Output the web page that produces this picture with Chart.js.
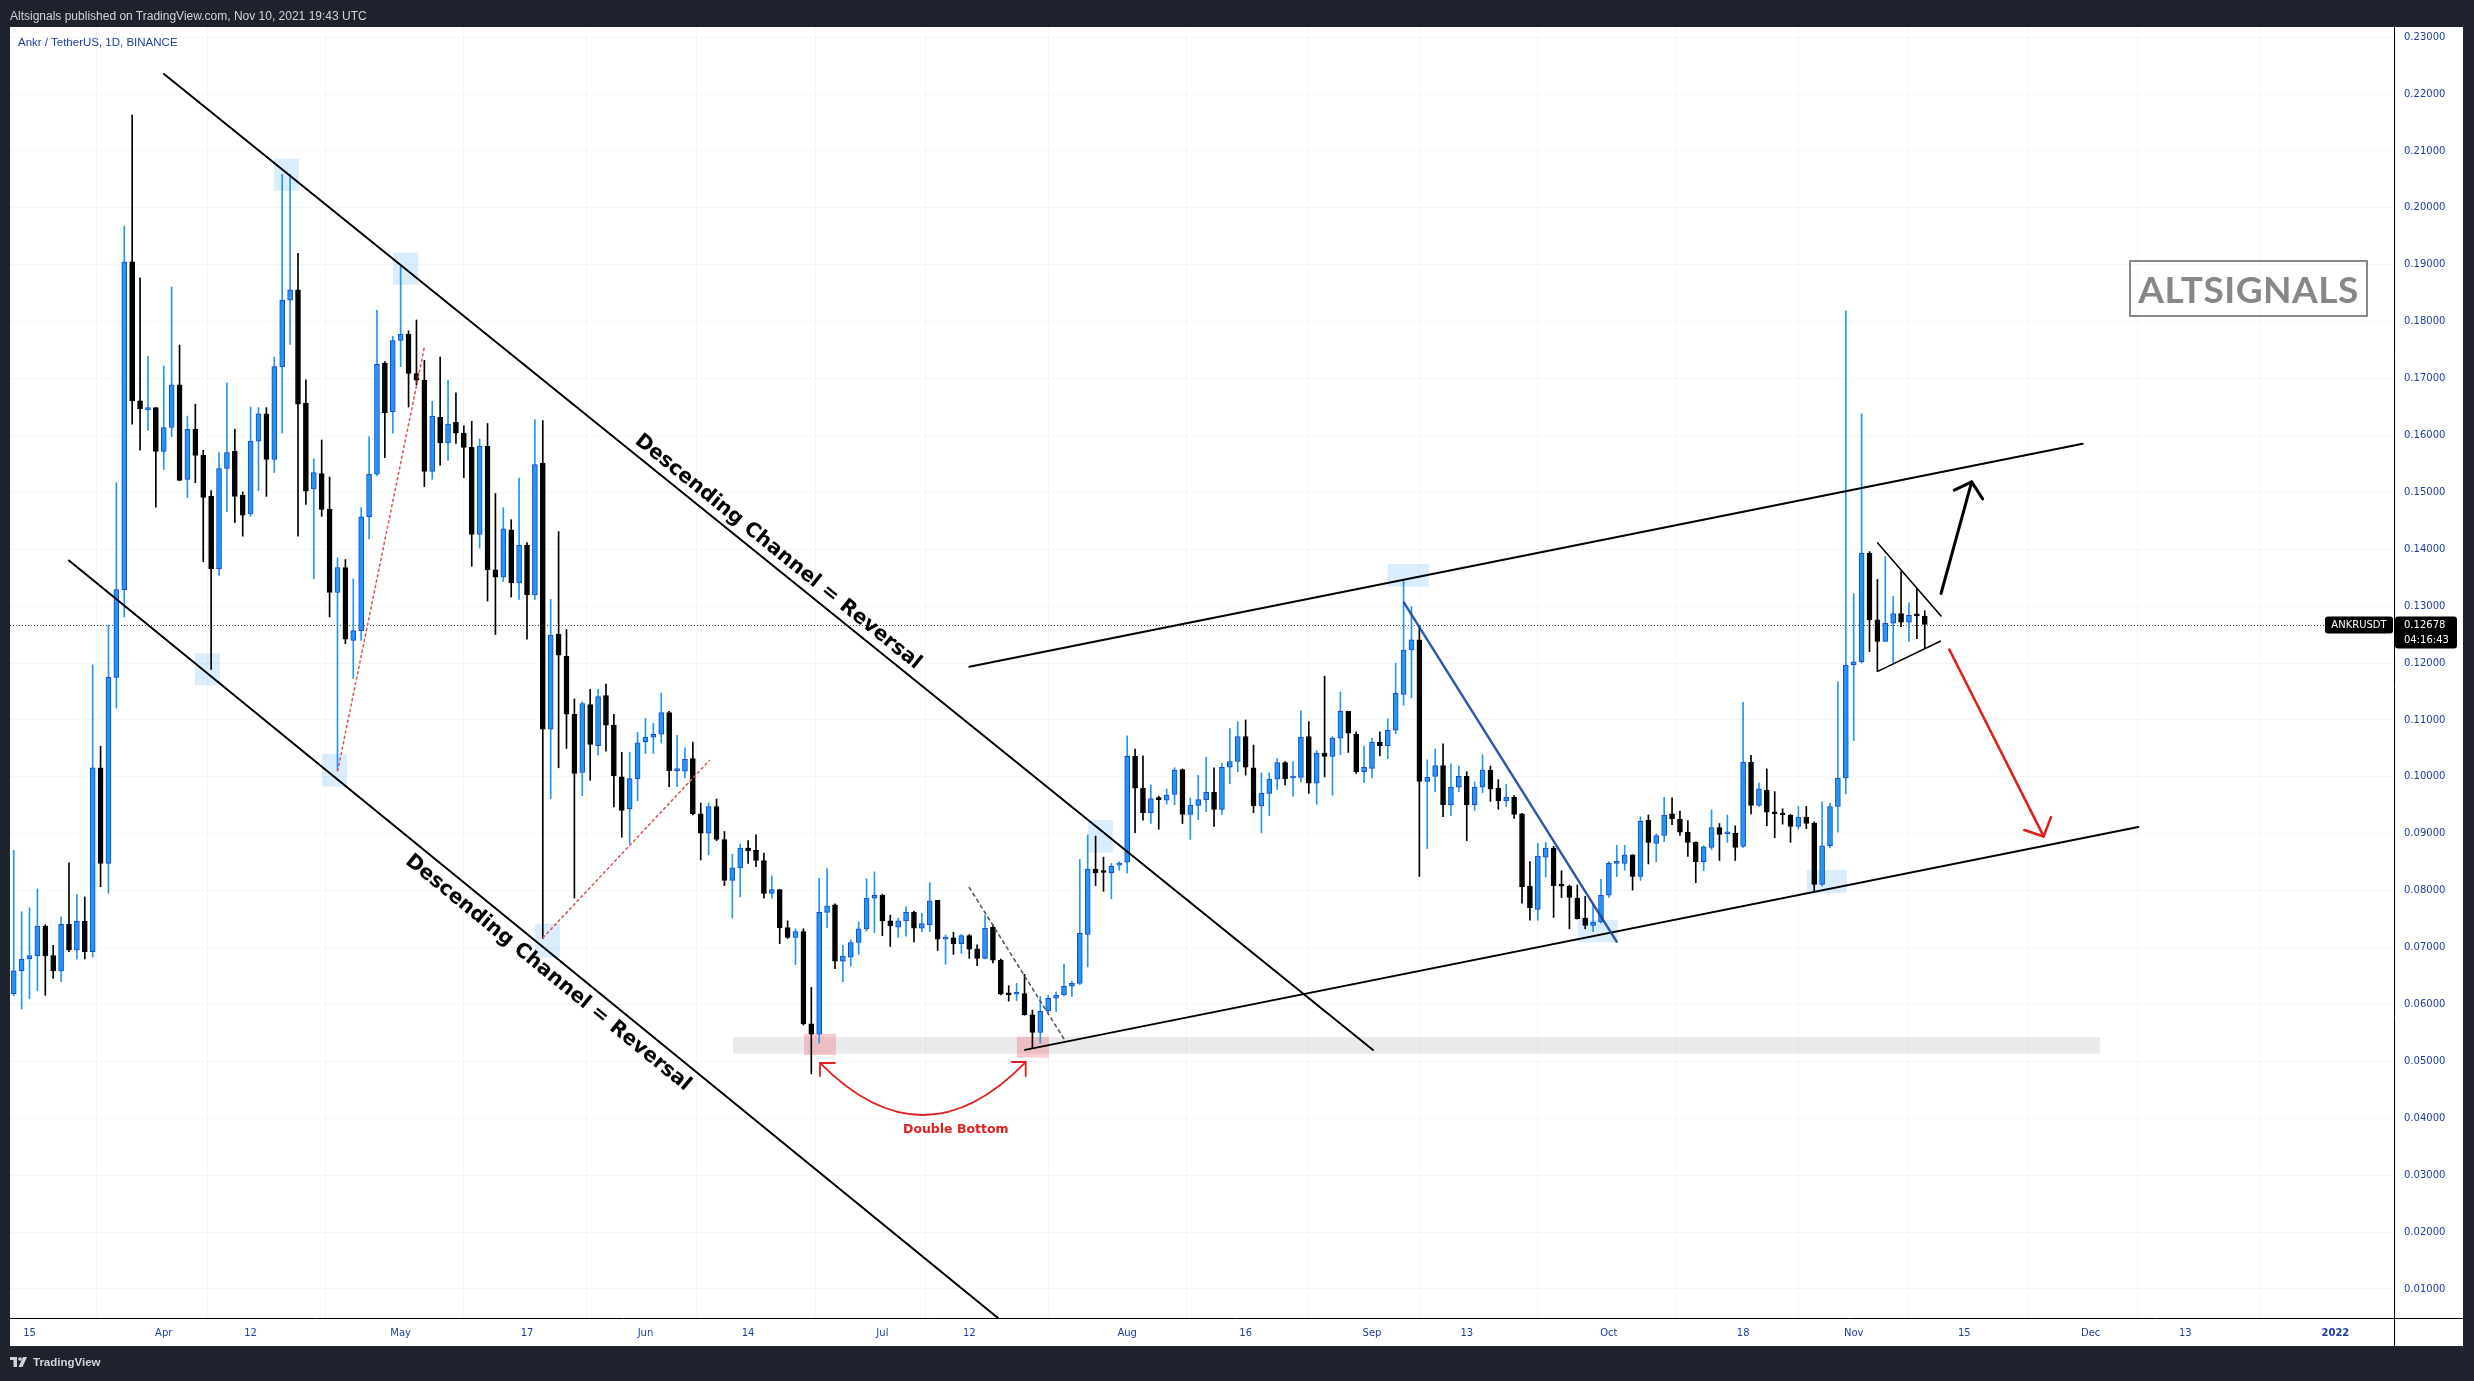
<!DOCTYPE html>
<html><head><meta charset="utf-8">
<script src="https://cdn.jsdelivr.net/npm/chart.js@4.4.0/dist/chart.umd.min.js"></script>
<style>
html,body{margin:0;padding:0;background:#1e222d;width:2474px;height:1381px;overflow:hidden;}
#c{position:absolute;left:0;top:0;}
.hdr{position:absolute;left:10px;top:9px;font:12px "Liberation Sans",sans-serif;color:#d1d4dc;z-index:2;white-space:nowrap;}
.sym{position:absolute;left:18px;top:36px;font:11.5px "Liberation Sans",sans-serif;color:#1e3ca0;z-index:2;white-space:nowrap;}
.ftr{position:absolute;left:10px;top:1356px;font:bold 11.5px "Liberation Sans",sans-serif;color:#d1d4dc;z-index:2;white-space:nowrap;display:flex;align-items:center;gap:3px;}
.wm{position:absolute;left:2129px;top:260px;width:235px;height:53px;border:2px solid #888;z-index:2;display:flex;align-items:center;justify-content:center;font:bold 37px Lato,sans-serif;color:#878787;letter-spacing:0.5px;}
</style></head>
<body>
<canvas id="c" width="2474" height="1381"></canvas>
<div class="hdr">Altsignals published on TradingView.com, Nov 10, 2021 19:43 UTC</div>
<div class="sym">Ankr / TetherUS, 1D, BINANCE</div>
<div class="wm">ALTSIGNALS</div>
<div class="ftr"><svg width="20" height="10" viewBox="0 0 20 10"><rect x="0" y="0" width="7" height="3" fill="#d1d4dc"/><rect x="3.5" y="0" width="3.5" height="10" fill="#d1d4dc"/><circle cx="10" cy="2" r="1.8" fill="#d1d4dc"/><polygon points="13,0 17,0 12.5,10 8.5,10" fill="#d1d4dc"/></svg><span>TradingView</span></div>
<script>
// ---- data (ANKR/USDT daily, from 2021-03-13) ----
const FIRST_DATE = '2021-03-13';
const BASE_DATE = '2021-03-15';
const opens = [0.0619,0.0659,0.0680,0.0686,0.0738,0.0686,0.0659,0.0741,0.0696,0.0746,0.0693,0.1016,0.0848,0.1175,0.1329,0.1905,0.1661,0.1645,0.1649,0.1572,0.1614,0.1689,0.1523,0.1611,0.1565,0.1493,0.1366,0.1542,0.1572,0.1495,0.1462,0.1590,0.1638,0.1558,0.1721,0.1838,0.1856,0.1657,0.1506,0.1533,0.1470,0.1324,0.1368,0.1240,0.1257,0.1457,0.1532,0.1727,0.1642,0.1767,0.1778,0.1709,0.1697,0.1537,0.1632,0.1587,0.1623,0.1604,0.1579,0.1426,0.1581,0.1364,0.1351,0.1434,0.1341,0.1407,0.1320,0.1551,0.1084,0.1251,0.1212,0.1110,0.1008,0.1127,0.1055,0.1143,0.1091,0.1000,0.0944,0.0997,0.1062,0.1070,0.1075,0.1113,0.1011,0.1010,0.1032,0.0935,0.0901,0.0948,0.0890,0.0818,0.0840,0.0875,0.0871,0.0853,0.0795,0.0802,0.0735,0.0718,0.0728,0.0566,0.0548,0.0762,0.0775,0.0676,0.0683,0.0709,0.0733,0.0787,0.0792,0.0747,0.0736,0.0747,0.0762,0.0734,0.0740,0.0783,0.0715,0.0717,0.0707,0.0721,0.0698,0.0681,0.0736,0.0678,0.0618,0.0618,0.0619,0.0582,0.0551,0.0589,0.0611,0.0617,0.0632,0.0637,0.0723,0.0838,0.0833,0.0831,0.0845,0.0850,0.1036,0.0980,0.0937,0.0961,0.0959,0.0969,0.1013,0.0934,0.0950,0.0960,0.0973,0.0943,0.1017,0.1027,0.1071,0.1016,0.0949,0.0971,0.0996,0.1025,0.0998,0.0999,0.1071,0.0989,0.1042,0.1036,0.1068,0.1115,0.1075,0.1009,0.1015,0.1061,0.1055,0.1082,0.1145,0.1223,0.1241,0.0992,0.1001,0.1020,0.0951,0.0982,0.1001,0.0951,0.0982,0.1012,0.0980,0.0958,0.0964,0.0935,0.0808,0.0767,0.0859,0.0875,0.0809,0.0808,0.0787,0.0752,0.0739,0.0745,0.0792,0.0848,0.0848,0.0863,0.0825,0.0924,0.0883,0.0897,0.0935,0.0926,0.0903,0.0885,0.0851,0.0876,0.0911,0.0900,0.0901,0.0878,0.1026,0.0950,0.0977,0.0937,0.0934,0.0933,0.0913,0.0929,0.0919,0.0811,0.0879,0.0948,0.0998,0.1197,0.1202,0.1393,0.1276,0.1238,0.1270,0.1287,0.1272,0.1284,0.1282];
const highs = [0.0871,0.0763,0.0770,0.0803,0.0740,0.0704,0.0754,0.0849,0.0793,0.0789,0.1197,0.1054,0.1267,0.1517,0.1968,0.2163,0.1877,0.1739,0.1649,0.1722,0.1861,0.1759,0.1634,0.1655,0.1574,0.1503,0.1570,0.1692,0.1611,0.1501,0.1650,0.1649,0.1649,0.1738,0.2059,0.2059,0.1920,0.1698,0.1559,0.1592,0.1527,0.1385,0.1382,0.1348,0.1473,0.1598,0.1820,0.1730,0.1774,0.1897,0.1784,0.1803,0.1732,0.1660,0.1738,0.1697,0.1675,0.1617,0.1625,0.1594,0.1621,0.1498,0.1473,0.1452,0.1525,0.1412,0.1628,0.1626,0.1312,0.1431,0.1259,0.1137,0.1132,0.1154,0.1154,0.1163,0.1110,0.1043,0.1043,0.1078,0.1103,0.1094,0.1147,0.1115,0.1073,0.1051,0.1061,0.0954,0.0954,0.0961,0.0904,0.0864,0.0882,0.0888,0.0898,0.0866,0.0826,0.0802,0.0747,0.0733,0.0733,0.0630,0.0822,0.0839,0.0777,0.0704,0.0713,0.0745,0.0821,0.0833,0.0794,0.0757,0.0752,0.0772,0.0764,0.0760,0.0814,0.0783,0.0722,0.0727,0.0723,0.0723,0.0705,0.0757,0.0740,0.0680,0.0633,0.0637,0.0653,0.0590,0.0614,0.0616,0.0622,0.0671,0.0641,0.0855,0.0898,0.0896,0.0859,0.0848,0.0851,0.1072,0.1049,0.1037,0.0986,0.0966,0.0979,0.1016,0.1014,0.0963,0.1003,0.1035,0.1016,0.1024,0.1085,0.1097,0.1100,0.1056,0.1007,0.1007,0.1032,0.1027,0.1027,0.1116,0.1097,0.1046,0.1177,0.1071,0.1149,0.1115,0.1079,0.1054,0.1068,0.1079,0.1102,0.1200,0.1346,0.1299,0.1265,0.1030,0.1049,0.1058,0.1023,0.1019,0.1009,0.0991,0.1039,0.1019,0.0995,0.0987,0.0967,0.0936,0.0851,0.0883,0.0885,0.0878,0.0835,0.0810,0.0810,0.0790,0.0778,0.0820,0.0851,0.0880,0.0880,0.0863,0.0930,0.0933,0.0900,0.0964,0.0963,0.0940,0.0923,0.0886,0.0879,0.0942,0.0918,0.0933,0.0914,0.1131,0.1038,0.0989,0.1014,0.0974,0.0944,0.0934,0.0948,0.0948,0.0921,0.0956,0.0954,0.1167,0.1819,0.1322,0.1638,0.1396,0.1347,0.1387,0.1317,0.1361,0.1306,0.1331,0.1292];
const lows = [0.0615,0.0592,0.0610,0.0624,0.0616,0.0646,0.0640,0.0693,0.0680,0.0680,0.0683,0.0807,0.0795,0.1121,0.1281,0.1620,0.1574,0.1609,0.1474,0.1540,0.1598,0.1521,0.1491,0.1517,0.1378,0.1189,0.1354,0.1466,0.1447,0.1423,0.1458,0.1503,0.1493,0.1535,0.1604,0.1760,0.1423,0.1479,0.1348,0.1458,0.1281,0.1011,0.1234,0.1173,0.1240,0.1418,0.1529,0.1561,0.1604,0.1721,0.1650,0.1689,0.1510,0.1523,0.1548,0.1556,0.1586,0.1526,0.1370,0.1402,0.1309,0.1250,0.1343,0.1316,0.1312,0.1242,0.1312,0.0716,0.0962,0.1016,0.1050,0.0787,0.0967,0.0994,0.1038,0.1045,0.0947,0.0894,0.0883,0.0958,0.1041,0.1041,0.1060,0.0983,0.0983,0.0998,0.0933,0.0854,0.0863,0.0888,0.0809,0.0752,0.0789,0.0848,0.0842,0.0787,0.0787,0.0707,0.0716,0.0670,0.0564,0.0478,0.0532,0.0735,0.0663,0.0640,0.0667,0.0688,0.0729,0.0726,0.0721,0.0702,0.0718,0.0720,0.0710,0.0728,0.0728,0.0695,0.0671,0.0688,0.0690,0.0681,0.0668,0.0680,0.0673,0.0617,0.0606,0.0607,0.0581,0.0524,0.0532,0.0586,0.0588,0.0615,0.0614,0.0635,0.0666,0.0809,0.0799,0.0786,0.0836,0.0831,0.0902,0.0924,0.0918,0.0908,0.0952,0.0951,0.0918,0.0890,0.0925,0.0939,0.0913,0.0934,0.0988,0.1009,0.1003,0.0937,0.0902,0.0932,0.0978,0.0986,0.0966,0.0991,0.0971,0.0952,0.1000,0.0968,0.1039,0.1043,0.1006,0.0990,0.0998,0.1037,0.1032,0.1076,0.1126,0.1139,0.0825,0.0874,0.0974,0.0930,0.0932,0.0974,0.0888,0.0941,0.0972,0.0957,0.0943,0.0948,0.0927,0.0778,0.0748,0.0748,0.0824,0.0753,0.0788,0.0733,0.0750,0.0733,0.0728,0.0743,0.0788,0.0825,0.0836,0.0801,0.0818,0.0847,0.0851,0.0886,0.0916,0.0897,0.0860,0.0814,0.0835,0.0872,0.0853,0.0885,0.0853,0.0876,0.0935,0.0948,0.0914,0.0893,0.0917,0.0885,0.0908,0.0909,0.0800,0.0808,0.0875,0.0903,0.0970,0.1064,0.1200,0.1220,0.1185,0.1238,0.1201,0.1264,0.1238,0.1243,0.1226];
const closes = [0.0659,0.0680,0.0686,0.0738,0.0686,0.0659,0.0741,0.0696,0.0746,0.0693,0.1016,0.0848,0.1175,0.1329,0.1905,0.1661,0.1647,0.1649,0.1572,0.1614,0.1689,0.1521,0.1611,0.1565,0.1491,0.1366,0.1542,0.1570,0.1493,0.1460,0.1590,0.1638,0.1558,0.1721,0.1838,0.1856,0.1655,0.1502,0.1535,0.1470,0.1324,0.1368,0.1242,0.1257,0.1457,0.1532,0.1725,0.1640,0.1767,0.1778,0.1709,0.1697,0.1537,0.1634,0.1587,0.1620,0.1604,0.1579,0.1426,0.1581,0.1364,0.1351,0.1436,0.1341,0.1407,0.1320,0.1549,0.1084,0.1249,0.1214,0.1110,0.1006,0.1129,0.1057,0.1141,0.1091,0.1002,0.0941,0.0997,0.1060,0.1070,0.1075,0.1113,0.1011,0.1012,0.1031,0.0935,0.0901,0.0948,0.0890,0.0818,0.0840,0.0875,0.0870,0.0853,0.0795,0.0802,0.0735,0.0718,0.0728,0.0566,0.0548,0.0762,0.0773,0.0676,0.0685,0.0709,0.0733,0.0787,0.0792,0.0747,0.0738,0.0747,0.0762,0.0734,0.0742,0.0782,0.0715,0.0716,0.0707,0.0721,0.0697,0.0681,0.0734,0.0678,0.0618,0.0617,0.0619,0.0582,0.0551,0.0588,0.0611,0.0616,0.0632,0.0637,0.0725,0.0838,0.0831,0.0832,0.0843,0.0848,0.1036,0.0980,0.0937,0.0962,0.0960,0.0968,0.1012,0.0934,0.0950,0.0960,0.0973,0.0943,0.1017,0.1027,0.1071,0.1017,0.0949,0.0971,0.0996,0.1025,0.0997,0.0999,0.1070,0.0989,0.1042,0.1036,0.1068,0.1115,0.1077,0.1009,0.1017,0.1061,0.1055,0.1082,0.1147,0.1223,0.1241,0.0992,0.0999,0.1020,0.0951,0.0982,0.1001,0.0951,0.0982,0.1012,0.0979,0.0958,0.0964,0.0934,0.0807,0.0770,0.0861,0.0875,0.0809,0.0808,0.0788,0.0751,0.0739,0.0745,0.0792,0.0848,0.0849,0.0863,0.0825,0.0922,0.0885,0.0897,0.0933,0.0926,0.0903,0.0885,0.0851,0.0877,0.0911,0.0899,0.0901,0.0876,0.1026,0.0950,0.0979,0.0938,0.0935,0.0933,0.0913,0.0929,0.0918,0.0811,0.0879,0.0948,0.0998,0.1196,0.1202,0.1393,0.1276,0.1238,0.1270,0.1287,0.1272,0.1284,0.1283,0.1268];
const lastPrice = 0.12678;
const symbolTag = 'ANKRUSDT';
const countdown = '04:16:43';

const xTickDates = ['2021-03-15','2021-04-01','2021-04-12','2021-05-01','2021-05-17','2021-06-01','2021-06-14','2021-07-01','2021-07-12','2021-08-01','2021-08-16','2021-09-01','2021-09-13','2021-10-01','2021-10-18','2021-11-01','2021-11-15','2021-12-01','2021-12-13','2022-01-01'];
const xTickLabels = ['15','Apr','12','May','17','Jun','14','Jul','12','Aug','16','Sep','13','Oct','18','Nov','15','Dec','13','2022'];
const yTickValues = [0.01,0.02,0.03,0.04,0.05,0.06,0.07,0.08,0.09,0.10,0.11,0.12,0.13,0.14,0.15,0.16,0.17,0.18,0.19,0.20,0.21,0.22,0.23];

// drawings: [day offset from BASE_DATE, price]
const channelLines = [
  [[17.03,0.22354],[170.13,0.05200]],
  [[5.0,0.13803],[122.64,0.00490]],
  [[119.01,0.11935],[260.0,0.15856]],
  [[126.06,0.05202],[267.04,0.09120]]
];
const blueTrend = [[174.05,0.13062],[200.99,0.07104]];
const triangleUpper = [[234.04,0.14111],[242.06,0.12828]];
const triangleLower = [[234.11,0.11859],[241.96,0.12385]];
const upArrowShaft = [[242.06,0.13223],[245.94,0.15184]];
const upArrowHead = [[243.74,0.15040],[245.94,0.15184],[247.33,0.14886]];
const downArrowShaft = [[243.11,0.12239],[255.06,0.08954]];
const downArrowHead = [[252.61,0.09067],[255.06,0.08954],[255.98,0.09293]];
const redDotted = [[[39.03,0.10109],[50.0,0.17551]],[[65.06,0.07179],[86.08,0.10285]]];
const grayDashed = [[119.01,0.08055],[131.04,0.05385]];
const blueBoxes = [[30.96,0.20863,34.13,0.20299],[46.03,0.19213,49.19,0.18648],[20.96,0.12174,24.12,0.11610],[37.04,0.10408,40.20,0.09831],[64.01,0.07418,67.18,0.06826],[134.04,0.09244,137.20,0.08666],[172.0,0.13742,177.2,0.13343],[196.08,0.07485,201.1,0.07093],[225.08,0.08366,230.15,0.07961]];
const pinkBoxes = [[98.08,0.05484,102.14,0.05112],[125.04,0.05429,129.09,0.05068]];
const supportZone = [89.08,0.05429,262.2,0.05135];
const curveArrow = {start:[100.1,0.04972], ctrl:[113.14,0.03135], end:[126.15,0.04989]};
const channelTexts = [
  {text:'Descending Channel = Reversal', at:[94.78,0.13953], line:0},
  {text:'Descending Channel = Reversal', at:[65.66,0.06554], line:1}
];
const doubleBottomText = {text:'Double Bottom', at:[117.3,0.03794]};
const X_MIN = -2.47, X_MAX = 299.42, Y_MIN = 0.00490, Y_MAX = 0.23179;

// ---- build ----
const DAY = 86400000;
const toDay = s => (Date.parse(s + 'T00:00:00Z') - Date.parse(BASE_DATE + 'T00:00:00Z')) / DAY;
const firstDay = toDay(FIRST_DATE);
const xTickDays = xTickDates.map(toDay);
const UP = '#2196f3', UP_BORDER = '#1848cc', DOWN = '#000000';
const AXIS_FONT = 'DejaVu Sans';
const isUp = opens.map((o,i) => closes[i] >= o);

const wickData = opens.map((o,i) => ({x: firstDay + i, y: [lows[i], highs[i]]}));
const bodyData = opens.map((o,i) => ({x: firstDay + i, y: [Math.min(o, closes[i]), Math.max(o, closes[i])]}));

function roundRect(c, x, y, w, h, r) {
  c.beginPath();
  c.moveTo(x + r, y); c.lineTo(x + w - r, y); c.quadraticCurveTo(x + w, y, x + w, y + r);
  c.lineTo(x + w, y + h - r); c.quadraticCurveTo(x + w, y + h, x + w - r, y + h);
  c.lineTo(x + r, y + h); c.quadraticCurveTo(x, y + h, x, y + h - r);
  c.lineTo(x, y + r); c.quadraticCurveTo(x, y, x + r, y); c.closePath(); c.fill();
}

const drawPlugin = {
  id: 'tvDraw',
  beforeDraw(chart) {
    const c = chart.ctx;
    c.save();
    c.fillStyle = '#1e222d'; c.fillRect(0,0,chart.width,chart.height);
    c.fillStyle = '#ffffff'; c.fillRect(10,27,2453,1319);
    c.restore();
  },
  beforeDatasetsDraw(chart) {
    const c = chart.ctx, xs = chart.scales.x, ys = chart.scales.y, a = chart.chartArea;
    const X = v => xs.getPixelForValue(v), Y = v => ys.getPixelForValue(v);
    c.save();
    c.beginPath(); c.rect(a.left, a.top, a.right-a.left, a.bottom-a.top); c.clip();
    c.fillStyle = 'rgba(178,181,190,0.28)';
    c.fillRect(X(supportZone[0]), Y(supportZone[1]), X(supportZone[2])-X(supportZone[0]), Y(supportZone[3])-Y(supportZone[1]));
    c.fillStyle = 'rgba(33,150,243,0.17)';
    blueBoxes.forEach(b => c.fillRect(X(b[0]), Y(b[1]), X(b[2])-X(b[0]), Y(b[3])-Y(b[1])));
    c.fillStyle = 'rgba(242,54,69,0.25)';
    pinkBoxes.forEach(b => c.fillRect(X(b[0]), Y(b[1]), X(b[2])-X(b[0]), Y(b[3])-Y(b[1])));
    const py = Math.round(Y(lastPrice)) + 0.5;
    c.strokeStyle = '#444'; c.lineWidth = 1; c.setLineDash([1,2]);
    c.beginPath(); c.moveTo(a.left, py); c.lineTo(a.right, py); c.stroke();
    c.restore();
  },
  afterDatasetsDraw(chart) {
    const c = chart.ctx, xs = chart.scales.x, ys = chart.scales.y, a = chart.chartArea;
    const P = pt => [xs.getPixelForValue(pt[0]), ys.getPixelForValue(pt[1])];
    const poly = (pts, color, width, dash) => {
      c.strokeStyle = color; c.lineWidth = width; c.setLineDash(dash || []);
      c.beginPath(); pts.forEach((p,i) => { const q = P(p); i ? c.lineTo(q[0],q[1]) : c.moveTo(q[0],q[1]); }); c.stroke();
    };
    c.save();
    c.beginPath(); c.rect(a.left, a.top, a.right-a.left, a.bottom-a.top); c.clip();
    c.lineCap = 'round'; c.lineJoin = 'round';
    redDotted.forEach(l => poly(l, '#e0585b', 1.6, [2,3.5]));
    poly(grayDashed, '#555', 1.6, [3,4]);
    channelLines.forEach(l => poly(l, '#000', 2));
    poly(blueTrend, 'rgba(30,70,160,0.9)', 2.5);
    poly(triangleUpper, '#000', 1.6);
    poly(triangleLower, '#000', 1.6);
    poly(upArrowShaft, '#000', 3);
    poly(upArrowHead, '#000', 3);
    poly(downArrowShaft, '#e0201e', 2.6);
    poly(downArrowHead, '#e0201e', 2.6);
    const s = P(curveArrow.start), k = P(curveArrow.ctrl), e = P(curveArrow.end);
    c.setLineDash([]); c.strokeStyle = '#e0201e'; c.lineWidth = 1.8;
    c.beginPath(); c.moveTo(s[0], s[1]); c.quadraticCurveTo(k[0], k[1], e[0], e[1]); c.stroke();
    c.beginPath(); c.moveTo(s[0]+15, s[1]); c.lineTo(s[0], s[1]); c.lineTo(s[0], s[1]+13); c.stroke();
    c.beginPath(); c.moveTo(e[0]-14, e[1]); c.lineTo(e[0], e[1]); c.lineTo(e[0], e[1]+14); c.stroke();
    channelTexts.forEach(t => {
      const l = channelLines[t.line], p0 = P(l[0]), p1 = P(l[1]);
      const ang = Math.atan2(p1[1]-p0[1], p1[0]-p0[0]);
      const q = P(t.at);
      c.save(); c.translate(q[0], q[1]); c.rotate(ang);
      c.font = 'bold 18px "DejaVu Sans"';
      const w = c.measureText(t.text).width;
      const fs = 18 * 362 / w;
      c.font = 'bold ' + fs.toFixed(2) + 'px "DejaVu Sans"';
      c.fillStyle = '#000'; c.textAlign = 'center'; c.textBaseline = 'middle';
      c.fillText(t.text, 0, 0);
      c.restore();
    });
    const d = P(doubleBottomText.at);
    c.font = 'bold 12.5px "DejaVu Sans"'; c.fillStyle = '#e0201e'; c.textAlign = 'center'; c.textBaseline = 'middle';
    c.fillText(doubleBottomText.text, d[0], d[1]);
    c.restore();
  },
  afterDraw(chart) {
    const c = chart.ctx, ys = chart.scales.y, a = chart.chartArea;
    c.save();
    c.strokeStyle = '#000'; c.lineWidth = 1; c.setLineDash([]);
    c.beginPath(); c.moveTo(Math.round(a.right)+0.5, 27); c.lineTo(Math.round(a.right)+0.5, 1346); c.stroke();
    c.beginPath(); c.moveTo(10, Math.round(a.bottom)+0.5); c.lineTo(2463, Math.round(a.bottom)+0.5); c.stroke();
    const py = ys.getPixelForValue(lastPrice);
    c.fillStyle = '#000';
    roundRect(c, a.right - 69, py - 8, 68, 17, 3);
    c.fillStyle = '#fff'; c.font = '10px "DejaVu Sans"'; c.textAlign = 'center'; c.textBaseline = 'middle';
    c.fillText(symbolTag, a.right - 35, py + 0.5);
    c.fillStyle = '#000';
    roundRect(c, a.right + 1, py - 8, 62, 32, 3);
    c.fillStyle = '#fff'; c.textAlign = 'left'; c.font = '10px "DejaVu Sans"';
    c.fillText(lastPrice.toFixed(5), a.right + 10, py + 1);
    c.fillText(countdown, a.right + 10, py + 15.5);
    c.restore();
  }
};

new Chart(document.getElementById('c'), {
  type: 'bar',
  data: {
    datasets: [
      {label:'body', data: bodyData, backgroundColor: isUp.map(u => u ? UP : DOWN), borderColor: isUp.map(u => u ? UP_BORDER : DOWN),
       borderWidth: 1, borderSkipped: false, barThickness: 5, grouped: false, order: 0, minBarLength: 2},
      {label:'wick', data: wickData, backgroundColor: isUp.map(u => u ? UP : DOWN), borderWidth: 0,
       barThickness: 1, grouped: false, order: 1, minBarLength: 1}
    ]
  },
  options: {
    responsive: false, animation: false, devicePixelRatio: 1,
    layout: {padding: {left: 10, top: 27, right: 11, bottom: 35}},
    plugins: {legend: {display: false}, tooltip: {enabled: false}},
    scales: {
      x: {
        type: 'linear', min: X_MIN, max: X_MAX, offset: false,
        afterFit: s => { s.height = 28; },
        afterBuildTicks: s => { s.ticks = xTickDays.map(v => ({value: v})); },
        grid: {color: 'rgba(42,46,57,0.045)', drawTicks: false},
        border: {display: false},
        ticks: {
          autoSkip: false, maxRotation: 0, padding: 9, color: '#1e3ca0',
          font: ctx => ({family: AXIS_FONT, size: 10, weight: (ctx.index === xTickLabels.length - 1) ? 'bold' : 'normal'}),
          callback: (v, i) => xTickLabels[i]
        }
      },
      y: {
        position: 'right', min: Y_MIN, max: Y_MAX,
        afterFit: s => { s.width = 69; },
        afterBuildTicks: s => { s.ticks = yTickValues.map(v => ({value: v})); },
        grid: {color: 'rgba(42,46,57,0.045)', drawTicks: false},
        border: {display: false},
        ticks: {padding: 10, color: '#1e3ca0', font: {family: AXIS_FONT, size: 10}, callback: v => v.toFixed(5)}
      }
    }
  },
  plugins: [drawPlugin]
});
</script>
</body></html>
